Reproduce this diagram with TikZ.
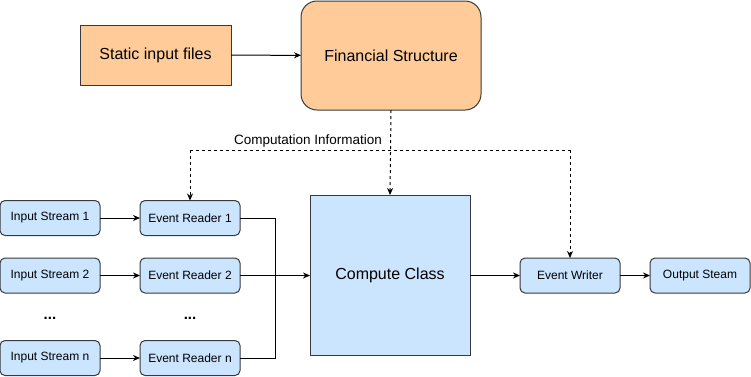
\documentclass[tikz,border=0pt]{standalone}
\usepackage{fontspec}
\setmainfont{Liberation Sans}
\usetikzlibrary{arrows.meta}
\definecolor{boxline}{HTML}{36393D}
\definecolor{orangefill}{HTML}{FFCC99}
\definecolor{bluefill}{HTML}{CCE5FF}
\begin{document}
\begin{tikzpicture}[
        x=1pt, y=-1pt,
        font=\fontsize{12}{14}\selectfont,
        box/.style={draw=boxline, line width=1pt, inner sep=0pt, outer sep=0pt, align=center},
        orangebox/.style={box, fill=orangefill, font=\fontsize{16}{19}\selectfont},
        streambox/.style={box, fill=bluefill, rounded corners=5pt, minimum width=100pt, minimum height=35pt},
        flow/.style={-{Stealth[length=7pt,width=6pt]}, line width=1pt},
        info/.style={flow, dash pattern=on 3pt off 3pt}
    ]
        \useasboundingbox (0,0) rectangle (751,376);

        % static part
        \node[orangebox, minimum width=151pt, minimum height=60pt]
            (static) at (155.5,55) {Static input files};
        \node[orangebox, rounded corners=16pt, minimum width=180pt, minimum height=109pt]
            (fin) at (391,55.5) {Financial Structure};

        % input side
        \node[streambox] (in1) at (50,218) {Input Stream 1};
        \node[streambox] (in2) at (50,275.5) {Input Stream 2};
        \node[streambox] (inN) at (50,358) {Input Stream n};
        \node[streambox] (rd1) at (190,218) {Event Reader 1};
        \node[streambox] (rd2) at (190,275.5) {Event Reader 2};
        \node[streambox] (rdN) at (190,358) {Event Reader n};
        \node[font=\fontsize{15}{18}\selectfont\bfseries] (dotsIn) at (50,318) {...};
        \node[font=\fontsize{15}{18}\selectfont\bfseries] (dotsRd) at (190,318) {...};

        % compute and output
        \node[box, fill=bluefill, minimum width=160pt, minimum height=160pt,
              font=\fontsize{16}{19}\selectfont]
            (compute) at (390,275) {Compute Class};
        \node[streambox] (writer) at (570,275.5) {Event Writer};
        \node[streambox] (out) at (700,275.5) {Output Steam};

        \coordinate (join) at (275,275.5);
        \coordinate (infoL) at (190,150);
        \coordinate (infoR) at (570,150);

        \draw[flow] (static) -- (fin);
        \draw[flow] (in1) -- (rd1);
        \draw[flow] (in2) -- (rd2);
        \draw[flow] (inN) -- (rdN);
        \draw[line width=1pt] (rd1.east) -| (join);
        \draw[line width=1pt] (rdN.east) -| (join);
        \draw[flow] (rd2.east) -- (compute.west |- rd2.east);
        \draw[flow] (compute.east |- writer.west) -- (writer.west);
        \draw[flow] (writer) -- (out);

        % computation information
        \draw[info] (fin.south) -- (compute.north);
        \draw[line width=1pt, dash pattern=on 3pt off 3pt] (infoL) -- (infoR);
        \draw[info] (infoL) -- (rd1.north);
        \draw[info] (infoR) -- (writer.north);
        \node[font=\fontsize{13.5}{16}\selectfont] (infoText) at (308,141) {Computation Information};
    \end{tikzpicture}
\end{document}
